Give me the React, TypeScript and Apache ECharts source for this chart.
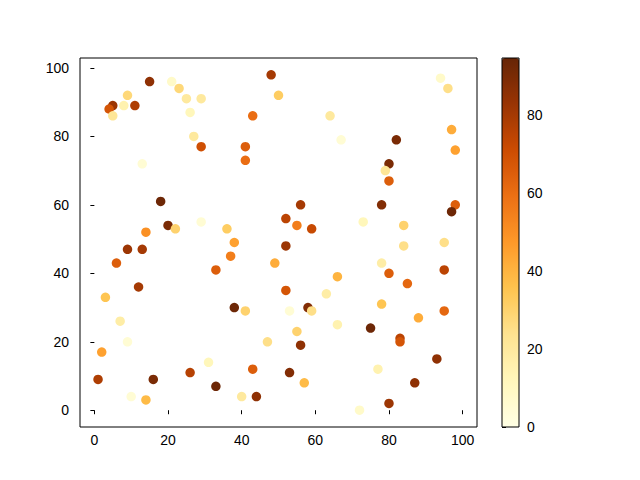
import React, { useEffect, useRef } from "react";
import * as echarts from "echarts";

const xs = [15, 21, 23, 9, 5, 4, 8, 11, 5, 25, 29, 26, 27, 29, 13, 18, 20, 22, 14, 29,
  48, 50, 43, 64, 67, 41, 41, 56, 52, 55, 59, 36, 94, 96, 97, 98, 82, 80, 79, 80,
  78, 98, 97, 73, 84, 9, 13, 6, 12, 3, 7, 9, 2, 1, 16, 26, 31, 10, 14, 33,
  33, 38, 52, 37, 49, 66, 52, 63, 38, 41, 53, 58, 59, 66, 55, 56, 47, 43, 53, 57,
  40, 44, 84, 95, 78, 80, 95, 85, 78, 95, 88, 75, 83, 83, 93, 77, 87, 80, 72];
const ys = [96, 96, 94, 92, 89, 88, 89, 89, 86, 91, 91, 87, 80, 77, 72, 61, 54, 53, 52, 55,
  98, 92, 86, 86, 79, 77, 73, 60, 56, 54, 53, 53, 97, 94, 82, 76, 79, 72, 70, 67,
  60, 60, 58, 55, 54, 47, 47, 43, 36, 33, 26, 20, 17, 9, 9, 11, 14, 4, 3, 41,
  7, 49, 48, 45, 43, 39, 35, 34, 30, 29, 29, 30, 29, 25, 23, 19, 20, 12, 11, 8,
  4, 4, 48, 49, 43, 40, 41, 37, 31, 29, 27, 24, 21, 20, 15, 12, 8, 2, 0];
const vals = [85, 8, 28, 28, 82, 68, 15, 78, 22, 20, 20, 12, 20, 70, 5, 93, 90, 30, 50, 5,
  80, 32, 60, 20, 5, 65, 60, 80, 75, 55, 72, 32, 8, 25, 42, 45, 90, 90, 22, 65,
  88, 65, 93, 12, 30, 82, 80, 65, 80, 35, 18, 5, 45, 78, 90, 76, 12, 5, 38, 65,
  93, 45, 82, 55, 42, 40, 68, 18, 93, 30, 5, 88, 25, 15, 30, 85, 25, 65, 88, 38,
  20, 85, 25, 25, 18, 65, 75, 62, 35, 62, 42, 93, 75, 68, 85, 15, 85, 82, 8];

const xTicks = [0, 20, 40, 60, 80, 100];
const yTicks = [0, 20, 40, 60, 80, 100];
const cbTicks = [0, 20, 40, 60, 80];
const cmap = ["#ffffe5", "#fff7bc", "#fee391", "#fec44f", "#fe9929", "#ec7014", "#cc4c02", "#993404", "#662506"];

export default function App() {
  const ref = useRef<HTMLDivElement>(null);
  useEffect(() => {
    document.body.style.margin = "0";
    const chart = echarts.init(ref.current!, null, { renderer: "svg" });
    const data = xs.map((x, i) => [x, ys[i], vals[i]]);
    const font = { fontFamily: "'Liberation Sans Narrow', 'Liberation Sans', sans-serif", fontSize: 14, color: "#000" };
    const tick = { show: true, inside: false, length: 4, lineStyle: { color: "#000", width: 1 } };
    chart.setOption({
      animation: false,
      backgroundColor: "#fff",
      grid: [
        { left: 80, top: 58, width: 397, height: 369, show: true, borderColor: "#000", borderWidth: 1, backgroundColor: "transparent", z: 10 },
        { left: 502, top: 58, width: 17, height: 369, show: true, borderColor: "#000", borderWidth: 1, backgroundColor: "transparent", z: 10 },
      ],
      xAxis: [
        {
          type: "value", gridIndex: 0, min: -3.9, max: 103.9,
          axisLine: { show: false }, splitLine: { show: false },
          axisTick: { ...tick, customValues: xTicks },
          axisLabel: { ...font, margin: 6, customValues: xTicks },
        },
        { type: "value", gridIndex: 1, show: false, min: 0, max: 1 },
      ],
      yAxis: [
        {
          type: "value", gridIndex: 0, min: -4.9, max: 102.9,
          axisLine: { show: false }, splitLine: { show: false },
          axisTick: { ...tick, customValues: yTicks },
          axisLabel: { ...font, margin: 11, customValues: yTicks },
        },
        {
          type: "value", gridIndex: 1, position: "right", min: 0, max: 94.6,
          axisLine: { show: false }, splitLine: { show: false },
          axisTick: { ...tick, customValues: cbTicks },
          axisLabel: { ...font, margin: 8, customValues: cbTicks },
        },
      ],
      visualMap: {
        type: "continuous",
        min: 0,
        max: 94.6,
        dimension: 2,
        seriesIndex: 0,
        calculable: false,
        hoverLink: false,
        text: null,
        left: 502,
        top: 58,
        padding: 0,
        itemWidth: 17,
        itemHeight: 369,
        inRange: { color: cmap },
        textStyle: { color: "transparent" },
        showLabel: false,
      },
      series: [
        {
          type: "scatter",
          xAxisIndex: 0,
          yAxisIndex: 0,
          symbolSize: 9.5,
          data,
          itemStyle: { opacity: 1 },
        },
      ],
    });
    return () => chart.dispose();
  }, []);
  return <div ref={ref} style={{ width: 640, height: 480 }} />;
}
